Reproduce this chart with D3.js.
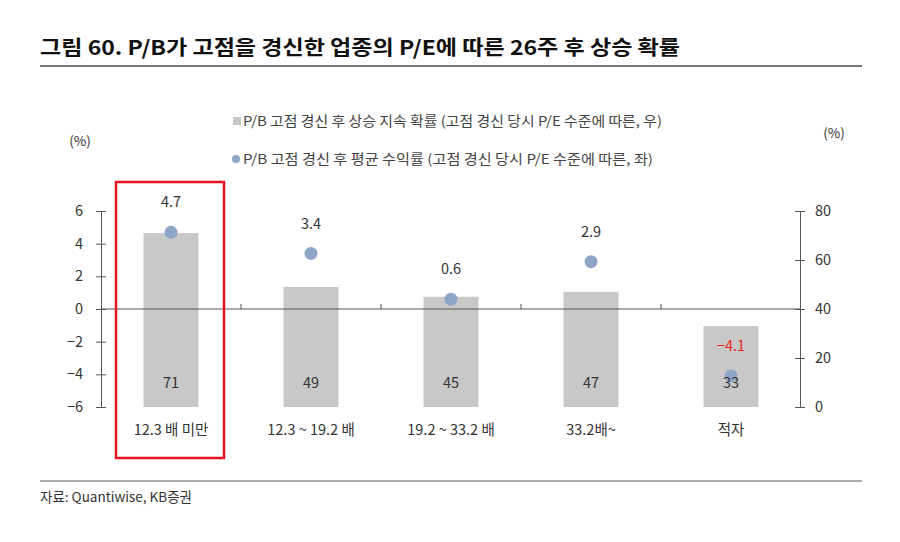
<!DOCTYPE html>
<html><head><meta charset="utf-8">
<script src="https://cdn.jsdelivr.net/npm/d3@7"></script>
<style>body{margin:0;background:#fff;} svg{display:block;font-family:"Noto Sans CJK KR","Noto Sans",sans-serif;}</style>
</head><body>
<svg id="c" width="900" height="542"></svg>
<script>
const categories = ["12.3 배 미만", "12.3 ~ 19.2 배", "19.2 ~ 33.2 배", "33.2배~", "적자"];
const probValues = [71, 49, 45, 47, 33];          // right axis, bars
const returnValues = [4.7, 3.4, 0.6, 2.9, -4.1];  // left axis, dots
const leftTicks = [-6, -4, -2, 0, 2, 4, 6];
const rightTicks = [0, 20, 40, 60, 80];
const titleText = "그림 60. P/B가 고점을 경신한 업종의 P/E에 따른 26주 후 상승 확률";
const legendBar = "P/B 고점 경신 후 상승 지속 확률 (고점 경신 당시 P/E 수준에 따른, 우)";
const legendDot = "P/B 고점 경신 후 평균 수익률 (고점 경신 당시 P/E 수준에 따른, 좌)";
const sourceText = "자료: Quantiwise, KB증권";

const svg = d3.select("#c");
const plotL = 101, plotR = 801, plotT = 211, plotB = 407;

const x = d3.scaleBand().domain(categories).range([plotL, plotR]).paddingInner(0.607).paddingOuter(0.3035);
const yL = d3.scaleLinear().domain([-6, 6]).range([plotB, plotT]);
const yR = d3.scaleLinear().domain([0, 80]).range([plotB, plotT]);

// Title
svg.append("text").attr("x", 40).attr("y", 55).attr("font-size", 20).attr("font-weight", 700)
  .attr("fill", "#111").attr("textLength", 640).attr("lengthAdjust", "spacingAndGlyphs").text(titleText);
svg.append("line").attr("x1", 40).attr("x2", 862).attr("y1", 66).attr("y2", 66).attr("stroke", "#777").attr("stroke-width", 2);

// Legend
svg.append("rect").attr("x", 233).attr("y", 117).attr("width", 8).attr("height", 8).attr("fill", "#c8c8c8");
svg.append("text").attr("x", 243).attr("y", 121).attr("dy", "0.35em").attr("font-size", 13.5).attr("fill", "#444")
  .attr("textLength", 419).attr("lengthAdjust", "spacingAndGlyphs").text(legendBar);
svg.append("circle").attr("cx", 236).attr("cy", 159).attr("r", 4).attr("fill", "#8fa5c8");
svg.append("text").attr("x", 243).attr("y", 159).attr("dy", "0.35em").attr("font-size", 13.5).attr("fill", "#444")
  .attr("textLength", 410).attr("lengthAdjust", "spacingAndGlyphs").text(legendDot);

// Unit labels
svg.append("text").attr("x", 80).attr("y", 141).attr("dy", "0.35em").attr("text-anchor", "middle").attr("font-size", 13.5).attr("fill", "#333").text("(%)");
svg.append("text").attr("x", 834).attr("y", 133).attr("dy", "0.35em").attr("text-anchor", "middle").attr("font-size", 13.5).attr("fill", "#333").text("(%)");

// Bars
svg.append("g").selectAll("rect").data(categories).join("rect")
  .attr("x", d => x(d)).attr("width", x.bandwidth())
  .attr("y", (d, i) => yR(probValues[i])).attr("height", (d, i) => yR(0) - yR(probValues[i]))
  .attr("fill", "#c8c8c8");

// Axes
const axL = svg.append("g").attr("transform", `translate(${plotL},0)`)
  .call(d3.axisLeft(yL).tickValues(leftTicks).tickSize(0).tickPadding(18));
const axR = svg.append("g").attr("transform", `translate(${plotR - 1},0)`)
  .call(d3.axisRight(yR).tickValues(rightTicks).tickSize(0).tickPadding(15));
[axL, axR].forEach(ax => {
  ax.select(".domain").attr("stroke", "#555");
  ax.selectAll(".tick line").attr("x1", -5).attr("x2", 5).attr("stroke", "#555");
  ax.selectAll(".tick text").attr("font-size", 14.5).attr("fill", "#333").attr("font-family", "'Noto Sans CJK KR','Noto Sans',sans-serif");
});

// Zero line with category separator ticks
const zeroY = yL(0);
svg.append("line").attr("x1", plotL).attr("x2", plotR - 1).attr("y1", zeroY).attr("y2", zeroY).attr("stroke", "#555").attr("stroke-width", 1);
const step = x.step();
svg.append("g").selectAll("line").data(categories.slice(1)).join("line")
  .attr("x1", d => x(d) - step * x.paddingInner() / 2).attr("x2", d => x(d) - step * x.paddingInner() / 2)
  .attr("y1", zeroY - 5).attr("y2", zeroY).attr("stroke", "#555");

// Dots
svg.append("g").selectAll("circle").data(categories).join("circle")
  .attr("cx", d => x(d) + x.bandwidth() / 2).attr("cy", (d, i) => yL(returnValues[i]))
  .attr("r", 6.5).attr("fill", "#8fa5c8");

// Bar value labels (drawn over dots)
svg.append("g").selectAll("text").data(categories).join("text")
  .attr("x", d => x(d) + x.bandwidth() / 2).attr("y", 383).attr("dy", "0.35em")
  .attr("text-anchor", "middle").attr("font-size", 14.5).attr("fill", "#333")
  .text((d, i) => probValues[i]);

// Dot labels
svg.append("g").selectAll("text").data(categories).join("text")
  .attr("x", d => x(d) + x.bandwidth() / 2).attr("y", (d, i) => yL(returnValues[i]) - 30).attr("dy", "0.35em")
  .attr("text-anchor", "middle").attr("font-size", 14.5)
  .attr("fill", (d, i) => returnValues[i] < 0 ? "#e8231f" : "#333")
  .text((d, i) => returnValues[i] < 0 ? "\u2212" + Math.abs(returnValues[i]) : returnValues[i]);

// Category labels
svg.append("g").selectAll("text").data(categories).join("text")
  .attr("x", d => x(d) + x.bandwidth() / 2).attr("y", 430).attr("dy", "0.35em")
  .attr("text-anchor", "middle").attr("font-size", 14.5).attr("fill", "#333").text(d => d);

// Highlight box
svg.append("rect").attr("x", 116).attr("y", 182).attr("width", 108).attr("height", 276)
  .attr("fill", "none").attr("stroke", "#e3141b").attr("stroke-width", 2.5);

// Bottom rule and source
svg.append("line").attr("x1", 40).attr("x2", 862).attr("y1", 481).attr("y2", 481).attr("stroke", "#aaa").attr("stroke-width", 2);
svg.append("text").attr("x", 40).attr("y", 497).attr("dy", "0.35em").attr("font-size", 13.5).attr("fill", "#333").text(sourceText);
</script>
</body></html>
